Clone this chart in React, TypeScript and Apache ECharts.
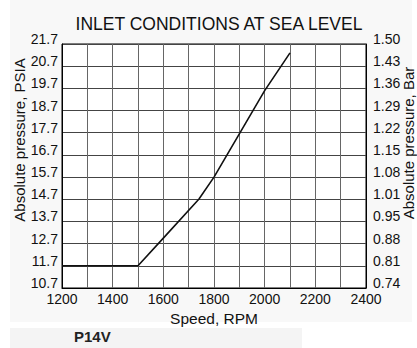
import React, { useEffect, useRef } from "react";
import * as echarts from "echarts";

const speedRpm = [1200, 1500, 1600, 1740, 1800, 2000, 2100];
const pressurePsia = [11.7, 11.7, 12.95, 14.7, 15.7, 19.6, 21.3];
const barTickLabels = ["0.74", "0.81", "0.88", "0.95", "1.01", "1.08", "1.15", "1.22", "1.29", "1.36", "1.43", "1.50"];
const psiaMin = 10.7;
const psiaMax = 21.7;
const rpmMin = 1200;
const rpmMax = 2400;

const FONT = "'Liberation Sans', Arial, sans-serif";

export default function App() {
  const ref = useRef<HTMLDivElement>(null);
  useEffect(() => {
    if (!ref.current) return;
    const chart = echarts.init(ref.current, null, { renderer: "svg" });
    const labelStyle = { color: "#111", fontSize: 14, fontFamily: FONT };
    chart.setOption({
      animation: false,
      backgroundColor: "#ffffff",
      textStyle: { fontFamily: FONT },
      title: {
        text: "INLET CONDITIONS AT SEA LEVEL",
        left: 214,
        textAlign: "center",
        top: 10,
        textStyle: { fontSize: 17.5, fontWeight: "normal", color: "#111", fontFamily: FONT },
      },
      graphic: [
        { type: "rect", z: -10, silent: true, shape: { x: 10, y: 0, width: 402, height: 322 }, style: { fill: "#f8f8f8" } },
        { type: "rect", z: -10, silent: true, shape: { x: 10, y: 328, width: 292, height: 20 }, style: { fill: "#f4f4f4" } },
        {
          type: "text", x: 19, y: 140, rotation: Math.PI / 2, z: 10,
          style: { text: "Absolute pressure, PSIA", fill: "#111", font: `15px ${FONT}`, align: "center", verticalAlign: "middle" },
        },
        {
          type: "text", x: 408, y: 143, rotation: Math.PI / 2, z: 10,
          style: { text: "Absolute pressure, Bar", fill: "#111", font: `15px ${FONT}`, align: "center", verticalAlign: "middle" },
        },
        {
          type: "text", x: 74, y: 329, z: 10,
          style: { text: "P14V", fill: "#222", font: `bold 15px ${FONT}`, align: "left", verticalAlign: "top" },
        },
      ],
      grid: { left: 62, right: 51, top: 44, bottom: 60, show: true, borderColor: "#000", borderWidth: 1, backgroundColor: "#ffffff" },
      xAxis: {
        type: "value",
        min: rpmMin,
        max: rpmMax,
        interval: 100,
        name: "Speed, RPM",
        nameLocation: "middle",
        nameGap: 18,
        nameTextStyle: { ...labelStyle, fontSize: 15.5 },
        axisLine: { show: true, lineStyle: { color: "#000" } },
        axisTick: { show: false },
        axisLabel: { ...labelStyle, margin: 4, formatter: (v: number) => (v % 200 === 0 ? String(v) : "") },
        splitLine: { show: true, lineStyle: { color: "#666", width: 1 } },
      },
      yAxis: [
        {
          type: "value",
          min: psiaMin,
          max: psiaMax,
          interval: 1,
          position: "left",
          axisLine: { show: true, lineStyle: { color: "#000" } },
          axisTick: { show: false },
          axisLabel: { ...labelStyle, margin: 4, verticalAlign: "bottom", lineHeight: 10, formatter: (v: number) => v.toFixed(1) },
          splitLine: { show: true, lineStyle: { color: "#444", width: 1 } },
        },
        {
          type: "value",
          min: psiaMin,
          max: psiaMax,
          interval: 1,
          position: "right",
          axisLine: { show: true, lineStyle: { color: "#000" } },
          axisTick: { show: false },
          axisLabel: {
            ...labelStyle,
            margin: 7,
            verticalAlign: "bottom",
            lineHeight: 10,
            formatter: (v: number) => barTickLabels[Math.round(v - psiaMin)] ?? "",
          },
          splitLine: { show: false },
        },
      ],
      series: [
        {
          type: "line",
          data: speedRpm.map((s, i) => [s, pressurePsia[i]]),
          showSymbol: false,
          symbol: "none",
          lineStyle: { color: "#111", width: 1.6 },
        },
      ],
    });
    return () => chart.dispose();
  }, []);
  return <div ref={ref} style={{ position: "absolute", left: 0, top: 0, width: 417, height: 348 }} />;
}
